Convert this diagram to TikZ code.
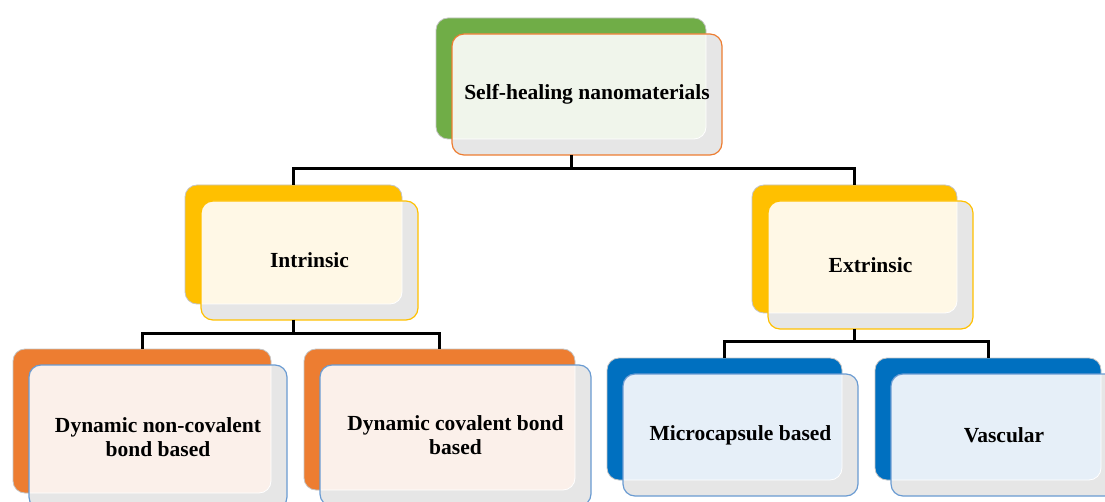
\documentclass[tikz,border=0pt]{standalone}
\usepackage{fontspec}
\setmainfont{Liberation Serif}
\usetikzlibrary{positioning}

\definecolor{leafgreen}{HTML}{70AD47}
\definecolor{leafgreenlt}{HTML}{F0F5EB}
\definecolor{gold}{HTML}{FFC000}
\definecolor{goldlt}{HTML}{FFF8E6}
\definecolor{accorange}{HTML}{ED7D31}
\definecolor{accorangelt}{HTML}{FBF0EA}
\definecolor{accblue}{HTML}{0070C0}
\definecolor{accbluelt}{HTML}{E6EFF8}
\definecolor{edgeblue}{HTML}{6A9BD2}
\definecolor{shadegray}{HTML}{E6E6E6}
\definecolor{backline}{HTML}{C4C4C4}

\begin{document}
\begin{tikzpicture}[x=1pt, y=-1pt,
  backbox/.style = {shape=rectangle, rounded corners=12pt, draw=backline,
    line width=0.8pt, outer sep=0pt, anchor=north west},
  frontbox/.style = {shape=rectangle, rounded corners=12pt, outer sep=0pt,
    anchor=north west, align=center, line width=1.2pt,
    font=\bfseries\fontsize{21.5}{24}\selectfont},
  bus/.style = {draw=black, line width=3pt}]
  \useasboundingbox (0,0) rectangle (1105,502);

  % boxes: name / corner / size / colours / text
  \foreach \nm/\x/\y/\w/\h/\dark/\light/\edge/\txt in {
    top/436/18/270/121/leafgreen/leafgreenlt/accorange/{Self-healing nanomaterials},
    intr/185/185/217/119/gold/goldlt/gold/{Intrinsic},
    extr/752/185/205/128/gold/goldlt/gold/{Extrinsic},
    dnc/13/349/258/144/accorange/accorangelt/edgeblue/{Dynamic non-covalent\\bond based},
    dc/304/349/271/141/accorange/accorangelt/edgeblue/{Dynamic covalent bond\\based},
    mc/607/358/235/122/accblue/accbluelt/edgeblue/{Microcapsule based},
    vasc/875/358/226/122/accblue/accbluelt/edgeblue/{Vascular}}
  {
    \node[backbox, fill=\dark, minimum width=\w pt, minimum height=\h pt] (\nm-b) at (\x,\y) {};
    \node[frontbox, fill=shadegray, minimum width=\w pt, minimum height=\h pt]
      (\nm-f) at ([shift={(16,16)}]\nm-b.north west) {};
    \begin{scope}
      \clip[rounded corners=12pt] (\nm-b.south west) rectangle (\nm-b.north east);
      \fill[\light, rounded corners=12pt] (\nm-f.south west) rectangle (\nm-f.north east);
    \end{scope}
    \begin{scope}
      \clip[rounded corners=12pt] (\nm-f.south west) rectangle (\nm-f.north east);
      \draw[white, line width=0.8pt, rounded corners=12pt] (\nm-b.south west) rectangle (\nm-b.north east);
    \end{scope}
    \node[frontbox, draw=\edge, minimum width=\w pt, minimum height=\h pt]
      (\nm) at (\nm-f.north west) {\txt};
  }

  % connectors
  \draw[bus] (top.south -| top-b.south) -- ++(0,14) coordinate (j1);
  \draw[bus] (intr-b.north) |- (j1) -| (extr-b.north);
  \draw[bus] (intr.south -| intr-b.south) -- ++(0,14) coordinate (j2);
  \draw[bus] (dnc-b.north) |- (j2) -| (dc-b.north);
  \draw[bus] (extr.south -| extr-b.south) -- ++(0,13) coordinate (j3);
  \draw[bus] (mc-b.north) |- (j3) -| (vasc-b.north);
\end{tikzpicture}
\end{document}
